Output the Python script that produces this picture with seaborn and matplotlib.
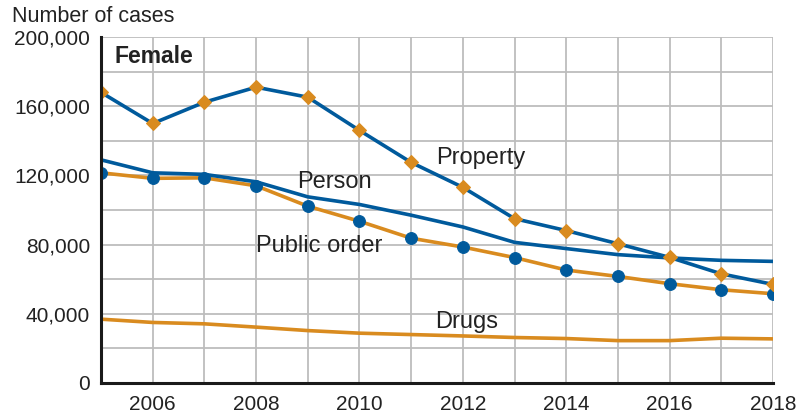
import matplotlib
matplotlib.use("Agg")
import matplotlib.pyplot as plt
import seaborn as sns
import pandas as pd
from matplotlib.ticker import FuncFormatter, MultipleLocator

years = list(range(2005, 2019))
property_cases = [168000, 150000, 162300, 171000, 165200, 146000, 127500, 113100, 95000, 88100, 80500, 72600, 63100, 57000]
person_cases = [129000, 121500, 120600, 116300, 107600, 103200, 97000, 90200, 81300, 77700, 74200, 72300, 70900, 70300]
public_order_cases = [121500, 118300, 118600, 114000, 102200, 93500, 83700, 78600, 72500, 65300, 61600, 57400, 53900, 51600]
drugs_cases = [36900, 35000, 34200, 32300, 30300, 28800, 28000, 27200, 26300, 25700, 24500, 24500, 25900, 25500]

y_ticks = list(range(0, 200001, 40000))
x_ticks = [2006, 2008, 2010, 2012, 2014, 2016, 2018]

BLUE = "#005a9c"
ORANGE = "#d98b1f"

sns.set_theme(style="white")
plt.rcParams["font.family"] = ["Liberation Sans", "DejaVu Sans"]

df = pd.DataFrame({
    "year": years,
    "Property": property_cases,
    "Person": person_cases,
    "Public order": public_order_cases,
    "Drugs": drugs_cases,
})

fig = plt.figure(figsize=(8.1, 4.16), dpi=100)
ax = fig.add_axes([101/810, 1-383/416, (773-101)/810, (383-37)/416])

sns.lineplot(data=df, x="year", y="Drugs", ax=ax, color=ORANGE, lw=2.6, zorder=3)
sns.lineplot(data=df, x="year", y="Public order", ax=ax, color=ORANGE, lw=2.6,
             marker="o", markersize=8.5, markerfacecolor=BLUE, markeredgecolor=BLUE, zorder=4)
sns.lineplot(data=df, x="year", y="Person", ax=ax, color=BLUE, lw=2.6, zorder=5)
sns.lineplot(data=df, x="year", y="Property", ax=ax, color=BLUE, lw=2.6,
             marker="D", markersize=7.5, markerfacecolor=ORANGE, markeredgecolor=ORANGE, zorder=6)

ax.set_xlim(2005, 2018)
ax.set_ylim(0, 200000)
ax.set_xlabel("")
ax.set_ylabel("")
ax.xaxis.set_major_locator(plt.FixedLocator(x_ticks))
ax.xaxis.set_minor_locator(MultipleLocator(1))
ax.yaxis.set_major_locator(plt.FixedLocator(y_ticks))
ax.yaxis.set_minor_locator(MultipleLocator(20000))
ax.yaxis.set_major_formatter(FuncFormatter(lambda v, p: f"{int(v):,}"))

ax.grid(True, which="both", color="#bdbdbd", lw=1.3)
ax.set_axisbelow(True)
for s in ["top", "right"]:
    ax.spines[s].set_visible(False)
for s in ["left", "bottom"]:
    ax.spines[s].set_color("#1a1a1a")
    ax.spines[s].set_linewidth(2.2)
    ax.spines[s].set_zorder(10)

ax.tick_params(axis="both", which="both", direction="out", color="#1a1a1a",
               length=4, width=1.2, labelsize=15, labelcolor="#222222")
ax.tick_params(axis="x", which="major", pad=5)
ax.tick_params(axis="y", which="major", pad=4)

txt = dict(fontsize=17, color="#222222", va="center", ha="left")
ax.text(2011.48, 130000, "Property", **txt)
ax.text(2008.8, 116000, "Person", **txt)
ax.text(2008.0, 79300, "Public order", **txt)
ax.text(2011.46, 35300, "Drugs", **txt)
ax.text(2005.27, 189000, "Female", fontsize=16.5, fontweight="bold", color="#222222", va="center", ha="left")

fig.text(12/810, 1-17/416, "Number of cases", fontsize=15.5, color="#222222", va="center", ha="left")

fig.savefig("out.png", dpi=100)
